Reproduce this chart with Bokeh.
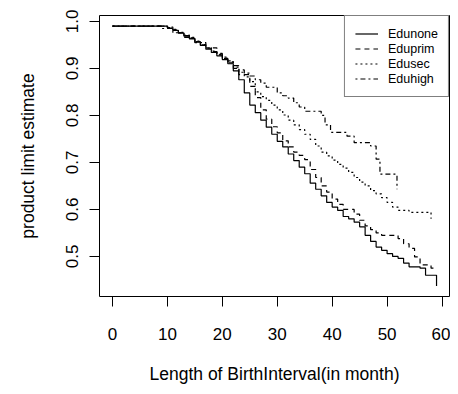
from bokeh.plotting import figure
from bokeh.models import Range1d, FixedTicker, PrintfTickFormatter, Legend, LegendItem
from bokeh.embed import file_html
from bokeh.resources import INLINE

# ---- data (Kaplan-Meier step estimates) ----
none_t = [0, 10, 11, 12, 13, 14, 15, 16, 17, 18, 19, 20, 21, 22, 23, 24, 25, 26, 27, 28, 29, 30,
          31, 32, 33, 34, 35, 36, 37, 38, 39, 40, 41, 42, 43, 44, 45, 46, 47, 48, 49, 50, 51, 52,
          53, 54, 56, 57, 59]
none_s = [0.990, 0.986, 0.981, 0.975, 0.969, 0.963, 0.956, 0.949, 0.941, 0.934, 0.927, 0.919, 0.910,
          0.895, 0.876, 0.848, 0.822, 0.806, 0.790, 0.775, 0.760, 0.745, 0.733, 0.718, 0.704, 0.690,
          0.676, 0.656, 0.643, 0.629, 0.615, 0.605, 0.598, 0.585, 0.580, 0.573, 0.563, 0.545, 0.532,
          0.520, 0.513, 0.506, 0.500, 0.496, 0.486, 0.478, 0.475, 0.460, 0.437]

prim_t = [0, 10, 11, 12, 13, 14, 15, 16, 17, 18, 19, 20, 21, 22, 23, 25, 26, 27, 28, 29, 30, 31,
          32, 33, 34, 35, 36, 37, 38, 39, 40, 41, 42, 44, 45, 46, 47, 48, 49, 52, 53, 54, 55, 56,
          58, 59]
prim_s = [0.990, 0.987, 0.982, 0.976, 0.970, 0.964, 0.957, 0.950, 0.943, 0.936, 0.929, 0.921, 0.912,
          0.900, 0.887, 0.862, 0.838, 0.812, 0.792, 0.776, 0.763, 0.746, 0.733, 0.722, 0.715, 0.706,
          0.685, 0.668, 0.650, 0.637, 0.622, 0.611, 0.600, 0.590, 0.577, 0.565, 0.557, 0.550, 0.545,
          0.538, 0.527, 0.517, 0.499, 0.482, 0.475, 0.475]

sec_t = [0, 10, 11, 12, 13, 14, 15, 16, 17, 18, 19, 20, 21, 22, 23, 24, 25, 26, 27, 28, 29, 30,
         31, 32, 33, 34, 35, 36, 37, 38, 39, 40, 41, 42, 43, 44, 45, 46, 47, 48, 49, 50, 51, 52,
         54, 58]
sec_s = [0.990, 0.988, 0.983, 0.977, 0.971, 0.965, 0.958, 0.951, 0.944, 0.937, 0.930, 0.922, 0.914,
         0.903, 0.892, 0.882, 0.872, 0.850, 0.840, 0.832, 0.822, 0.812, 0.801, 0.790, 0.780, 0.770,
         0.760, 0.749, 0.735, 0.722, 0.714, 0.705, 0.696, 0.688, 0.679, 0.668, 0.658, 0.650, 0.640,
         0.633, 0.625, 0.615, 0.605, 0.598, 0.594, 0.580]

high_t = [0, 9, 11, 13, 15, 17, 19, 20, 21, 22, 23, 24, 25, 26, 27, 28, 30, 31, 32, 33, 34, 35,
          38, 38.7, 39.7, 42.7, 44, 47, 48, 48.7, 51.8]
high_s = [0.990, 0.985, 0.976, 0.966, 0.955, 0.944, 0.932, 0.924, 0.916, 0.906, 0.897, 0.890, 0.884,
          0.876, 0.869, 0.860, 0.848, 0.842, 0.837, 0.827, 0.818, 0.809, 0.800, 0.780, 0.764, 0.756,
          0.742, 0.735, 0.707, 0.675, 0.643]

labels = ["Edunone", "Eduprim", "Edusec", "Eduhigh"]
x_ticks = [0, 10, 20, 30, 40, 50, 60]
y_ticks = [0.5, 0.6, 0.7, 0.8, 0.9, 1.0]

FONT = "Liberation Sans"

p = figure(width=450, height=386, output_backend="svg", toolbar_location=None,
           x_range=Range1d(-2.36, 61.36), y_range=Range1d(0.4148, 1.0127),
           min_border_left=99, min_border_right=1, min_border_top=15, min_border_bottom=87)
p.grid.visible = False
p.outline_line_color = "black"
p.outline_line_width = 1
p.outline_line_alpha = 1
p.background_fill_color = "white"
p.border_fill_color = "white"

p.xaxis.ticker = FixedTicker(ticks=x_ticks)
p.yaxis.ticker = FixedTicker(ticks=y_ticks)
p.yaxis.formatter = PrintfTickFormatter(format="%.1f")
for ax in (p.xaxis[0], p.yaxis[0]):
    ax.axis_line_color = None
    ax.major_tick_in = 0
    ax.major_tick_out = 10
    ax.major_tick_line_color = "black"
    ax.minor_tick_line_color = None
    ax.major_label_text_font = FONT
    ax.major_label_text_font_size = "17px"
    ax.major_label_text_color = "black"
    ax.axis_label_text_font = FONT
    ax.axis_label_text_font_size = "17.5px"
    ax.axis_label_text_font_style = "normal"
    ax.axis_label_text_color = "black"

p.xaxis.axis_label = "Length of BirthInterval(in month)"
p.yaxis.axis_label = "product limit estimate"
p.xaxis.major_label_standoff = 21
p.xaxis.axis_label_standoff = 21
p.yaxis.major_label_orientation = "vertical"
p.yaxis.major_label_standoff = 11
p.yaxis.axis_label_standoff = 26

lw = 1.2
r1 = p.step(none_t, none_s, mode="after", line_color="black", line_width=lw)
r2 = p.step(prim_t, prim_s, mode="after", line_color="black", line_width=lw, line_dash="5 4")
r3 = p.step(sec_t, sec_s, mode="after", line_color="black", line_width=lw, line_dash="2 3")
r4 = p.step(high_t, high_s, mode="after", line_color="black", line_width=lw, line_dash="2 3 5 3")

legend = Legend(items=[LegendItem(label=l, renderers=[r]) for l, r in zip(labels, [r1, r2, r3, r4])],
                location="top_right", margin=0, padding=10, spacing=0,
                glyph_width=23, glyph_height=15, label_height=15, label_standoff=10,
                label_text_font=FONT, label_text_font_size="12.5px", label_text_color="black",
                border_line_color="black", border_line_width=1, background_fill_alpha=1)
p.add_layout(legend, "center")

open("out.html", "w").write(file_html(p, INLINE))
